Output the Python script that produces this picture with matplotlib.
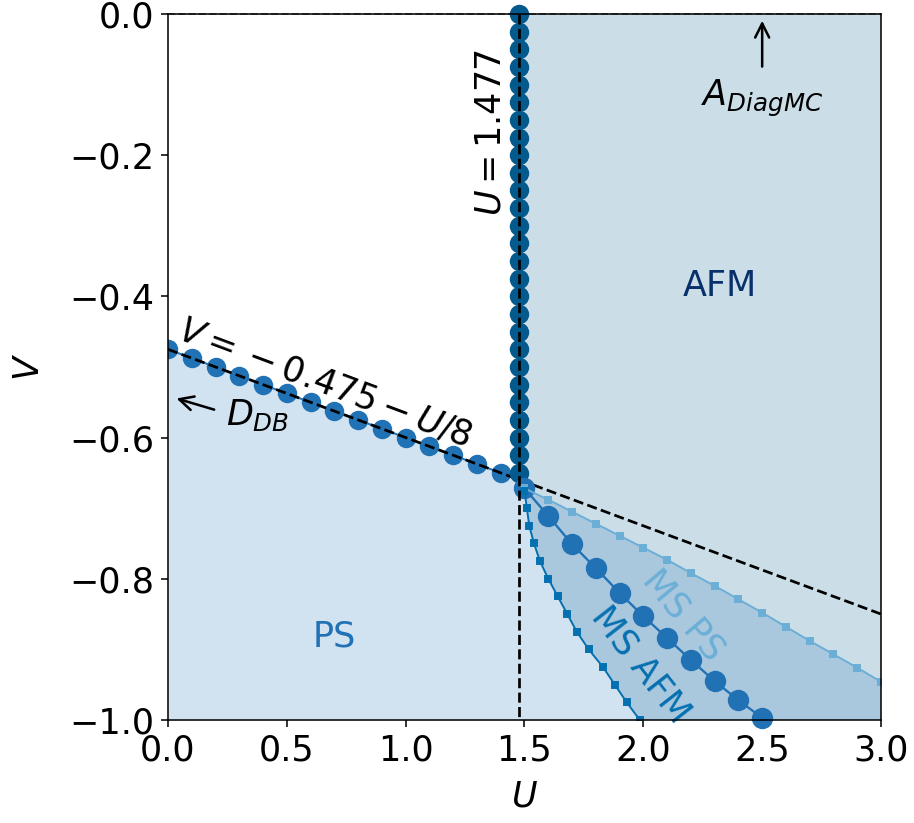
import matplotlib
matplotlib.use("Agg")
import matplotlib.pyplot as plt

# data
U_db = [0.0, 0.1, 0.2, 0.3, 0.4, 0.5, 0.6, 0.7, 0.8, 0.9, 1.0, 1.1, 1.2, 1.3, 1.4]
V_db = [-0.475, -0.4875, -0.5, -0.5125, -0.525, -0.5375, -0.55, -0.5625,
        -0.575, -0.5875, -0.6, -0.6125, -0.625, -0.6375, -0.65]

U_c = 1.477
V_vert = [0.0, -0.025, -0.05, -0.075, -0.1, -0.125, -0.15, -0.175, -0.2,
          -0.225, -0.25, -0.275, -0.3, -0.325, -0.35, -0.375, -0.4, -0.425,
          -0.45, -0.475, -0.5, -0.525, -0.55, -0.575, -0.6, -0.625, -0.65]

U_msafm = [1.5, 1.6, 1.7, 1.8, 1.9, 2.0, 2.1, 2.2, 2.3, 2.4, 2.5]
V_msafm = [-0.672, -0.711, -0.751, -0.785, -0.820, -0.853, -0.884, -0.915,
           -0.945, -0.972, -0.997]

U_msps = [1.5, 1.6, 1.7, 1.8, 1.9, 2.0, 2.1, 2.2, 2.3, 2.4, 2.5, 2.6, 2.7,
          2.8, 2.9, 3.0]
V_msps = [-0.672, -0.688, -0.705, -0.722, -0.739, -0.756, -0.773, -0.792,
          -0.810, -0.829, -0.848, -0.868, -0.888, -0.907, -0.926, -0.946]

V_low = [-0.675, -0.7, -0.725, -0.75, -0.775, -0.8, -0.825, -0.85, -0.875,
         -0.9, -0.925, -0.95, -0.975, -1.0]
U_low = [1.50, 1.51, 1.52, 1.54, 1.565, 1.60, 1.64, 1.68, 1.72, 1.77, 1.83,
         1.88, 1.93, 1.985]

c_afm_fill = '#cbdee8'
c_ps_fill = '#d1e2f1'
c_ms_fill = '#a9c8de'

plt.rcParams['font.size'] = 18
fig = plt.figure(figsize=(914 / 140, 823 / 140), dpi=140)
ax = fig.add_axes([0.1838, 0.1252, 0.7801, 0.8578])

# regions
ax.fill_between([U_c, 3.0], [-1, -1], [0, 0], color=c_afm_fill, lw=0, zorder=0)
ax.fill_between([0, U_c], [-1, -1], [-0.475, -0.475 - U_c / 8],
                color=c_ps_fill, lw=0, zorder=0)
ax.fill_betweenx([-0.665] + V_low, [U_c] * (len(V_low) + 1), [1.49] + U_low,
                 color=c_ps_fill, lw=0, zorder=0)
ms_u = U_low + [3.0] + U_msps[::-1]
ms_v = V_low + [-1.0] + V_msps[::-1]
ax.fill(ms_u, ms_v, color=c_ms_fill, lw=0, zorder=0)

# lines
ax.plot([0, 3], [-0.475, -0.475 - 3 / 8], 'k--', lw=1.4, zorder=3)
ax.plot([U_c, U_c], [0, -1], 'k--', lw=1.4, zorder=4)
ax.plot([0, 3], [0, 0], '--', color='grey', lw=1, zorder=3, clip_on=False)

ax.plot(U_db, V_db, 'o-', color='#2171b5', ms=9, lw=1, zorder=2)
ax.plot([U_c] * len(V_vert), V_vert, 'o', color='#045a8d', ms=9, zorder=3,
        clip_on=False)
ax.plot(U_msafm, V_msafm, 'o-', color='#2171b5', mec='#2171b5', ms=10, lw=1.2,
        zorder=3, clip_on=False)
ax.plot(U_msps, V_msps, 's-', color='#6baed6', ms=3.5, lw=1, zorder=3)
ax.plot(U_low, V_low, 's-', color='#0570b0', ms=3.5, lw=1, zorder=3)

# labels
ax.text(0.66, -0.522, r'$V={}-0.475-U/8$', rotation=-20.5, ha='center',
        va='center', fontsize=18)
ax.text(1.355, -0.168, r'$U=1.477$', rotation=90, ha='center', va='center',
        fontsize=18)
ax.text(2.32, -0.385, 'AFM', color='#08306b', ha='center', va='center')
ax.text(0.70, -0.882, 'PS', color='#2171b5', ha='center', va='center')
ax.text(2.17, -0.852, 'MS PS', color='#6baed6', rotation=-50, ha='center',
        va='center')
ax.text(1.99, -0.922, 'MS AFM', color='#0570b0', rotation=-52, ha='center',
        va='center')

ax.annotate('', xy=(2.5, -0.004), xytext=(2.5, -0.08),
            arrowprops=dict(arrowstyle='->', color='k', lw=1.3))
ax.text(2.5, -0.12, r'$A_{DiagMC}$', ha='center', va='center', fontsize=18)
ax.annotate('', xy=(0.02, -0.543), xytext=(0.21, -0.562),
            arrowprops=dict(arrowstyle='->', color='k', lw=1.3))
ax.text(0.245, -0.568, r'$D_{DB}$', ha='left', va='center', fontsize=18)

ax.set_xlim(0, 3)
ax.set_ylim(-1, 0)
ax.set_xticks([0, 0.5, 1.0, 1.5, 2.0, 2.5, 3.0])
ax.set_yticks([-1.0, -0.8, -0.6, -0.4, -0.2, 0.0])
ax.set_xlabel(r'$U$', labelpad=6)
ax.set_ylabel(r'$V$', labelpad=12)
for s in ax.spines.values():
    s.set_zorder(5)

fig.savefig('out.png', dpi=140)
